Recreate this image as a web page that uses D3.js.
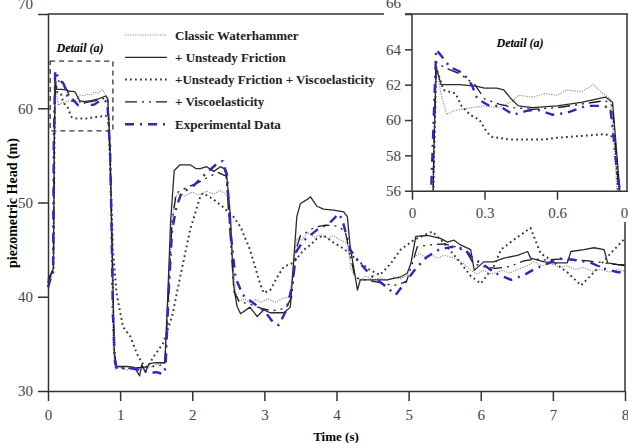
<!DOCTYPE html>
<html>
<head>
<meta charset="utf-8">
<script src="https://cdn.jsdelivr.net/npm/d3@7"></script>
<style>
  body { margin: 0; background: #fff; }
  svg { display: block; font-family: "Liberation Serif", "Times New Roman", serif; }
</style>
</head>
<body>
<div id="container"></div>
<script>
// series: [time (s), head (m)]
const classicWH = [[0,41.5],[0.05,42.5],[0.075,43],[0.085,56],[0.1,63],[0.12,61.5],[0.144,60.3],[0.17,60.5],[0.2,60.6],[0.25,60.7],[0.3,60.8],[0.36,60.7],[0.42,61.1],[0.44,61.4],[0.5,61.3],[0.55,61.5],[0.6,61.4],[0.64,61.7],[0.7,61.6],[0.75,62.0],[0.79,61.5],[0.82,61.2],[0.84,58],[0.87,50],[0.9,35],[0.93,32.3],[1.0,32.5],[1.1,32.2],[1.2,32.4],[1.35,32.3],[1.5,32.8],[1.62,33],[1.67,40],[1.72,48],[1.76,50.6],[1.82,51.0],[1.9,50.7],[2.0,51.1],[2.1,50.8],[2.2,51.2],[2.3,50.9],[2.38,51.3],[2.45,51.0],[2.5,50.5],[2.55,45],[2.6,40.5],[2.65,39.5],[2.72,39.8],[2.8,39.3],[2.88,39.7],[2.95,39.4],[3.05,39.8],[3.15,39.4],[3.25,39.8],[3.35,40],[3.4,43],[3.45,46.2],[3.52,46.0],[3.6,46.8],[3.7,46.3],[3.78,46.6],[3.88,46.2],[3.95,46.5],[4.06,46.0],[4.15,45.7],[4.2,43],[4.25,42.2],[4.33,41.8],[4.4,42.2],[4.5,41.8],[4.6,42.0],[4.7,41.7],[4.8,42.1],[4.9,41.9],[4.98,42.3],[5.05,44.0],[5.15,44.6],[5.22,44.2],[5.3,44.5],[5.4,44.1],[5.5,44.4],[5.63,44.1],[5.75,43.6],[5.86,42.8],[5.95,42.4],[6.04,42.8],[6.15,42.4],[6.3,42.8],[6.4,42.5],[6.51,42.9],[6.65,43.3],[6.74,43.7],[6.85,43.3],[6.97,43.5],[7.1,43.1],[7.2,43.3],[7.3,42.9],[7.43,43.1],[7.55,42.7],[7.66,42.9],[7.8,42.6],[7.9,42.9],[8,42.7]];

const unsteadyFriction = [[0,41.8],[0.05,42.6],[0.075,43],[0.09,58],[0.1,63],[0.12,62.0],[0.2,62.0],[0.27,61.9],[0.3,61.8],[0.35,61.8],[0.38,61.7],[0.41,61.2],[0.44,60.8],[0.5,60.7],[0.6,60.8],[0.7,61.0],[0.8,61.3],[0.83,61.0],[0.86,56],[0.89,45],[0.92,34],[0.95,32.6],[1.1,32.6],[1.2,32.5],[1.27,31.6],[1.3,32.8],[1.35,32.0],[1.4,32.9],[1.5,33.0],[1.62,33.0],[1.66,40],[1.7,48],[1.75,53.4],[1.83,54.0],[1.97,54.0],[2.05,53.6],[2.11,53.6],[2.2,53.8],[2.3,53.3],[2.39,53.8],[2.44,53.6],[2.48,52.7],[2.53,48.5],[2.57,41.4],[2.62,39.0],[2.67,38.2],[2.8,38.9],[2.9,37.9],[2.99,38.6],[3.08,38.3],[3.27,38.3],[3.36,38.9],[3.4,43.2],[3.45,48.5],[3.5,49.9],[3.59,50.3],[3.64,50.6],[3.73,49.6],[3.82,49.3],[3.96,49.2],[4.1,49.0],[4.15,48.5],[4.19,45.3],[4.26,42.1],[4.29,40.7],[4.33,41.8],[4.43,41.8],[4.57,41.8],[4.7,41.8],[4.89,42.1],[4.98,42.5],[5.03,43.5],[5.1,46.4],[5.26,46.5],[5.44,46.2],[5.54,45.8],[5.63,46.0],[5.72,45.5],[5.86,45.0],[5.91,42.8],[6.04,43.7],[6.18,43.7],[6.32,44.1],[6.51,44.4],[6.65,44.8],[6.69,44.1],[6.88,43.7],[7.02,43.6],[7.2,43.6],[7.25,44.8],[7.43,45.0],[7.57,45.2],[7.71,45.0],[7.76,43.6],[7.9,43.4],[8,43.4]];

const frictionVisco = [[0,41.5],[0.05,42.3],[0.075,43],[0.09,57],[0.1,63],[0.13,61.7],[0.18,61.5],[0.205,60.8],[0.24,60.3],[0.28,60.0],[0.31,59.3],[0.33,59.05],[0.4,58.9],[0.55,58.9],[0.6,59.0],[0.7,59.1],[0.8,59.2],[0.84,59.0],[0.87,52],[0.9,45],[0.95,40.4],[1.04,36.8],[1.14,35.8],[1.23,34.0],[1.3,33.0],[1.38,32.5],[1.46,33.6],[1.6,35.1],[1.72,37.9],[1.83,42.0],[1.97,47.1],[2.11,50.6],[2.15,51.0],[2.3,50.3],[2.43,49.5],[2.57,48.5],[2.67,47.4],[2.8,45.0],[2.94,41.4],[2.99,40.4],[3.08,40.7],[3.18,42.1],[3.27,43.2],[3.4,43.6],[3.55,45.0],[3.64,45.5],[3.73,46.2],[3.82,46.5],[3.95,45.8],[4.1,45.1],[4.3,43.8],[4.45,42.9],[4.6,42.3],[4.75,43.5],[4.89,45.0],[5.07,46.0],[5.26,46.7],[5.33,46.9],[5.49,45.7],[5.72,43.6],[5.86,42.2],[6.0,41.4],[6.18,43.2],[6.28,45.0],[6.45,46.0],[6.69,47.3],[6.83,44.6],[6.97,43.9],[7.2,42.6],[7.39,41.2],[7.57,42.6],[7.8,44.6],[8.0,46.2]];

const viscoelastic = [[0,41.6],[0.05,42.5],[0.075,43],[0.09,58],[0.1,63.3],[0.13,63.0],[0.2,62.6],[0.26,62.0],[0.3,61.2],[0.36,60.9],[0.42,60.7],[0.5,60.6],[0.6,60.7],[0.7,60.9],[0.8,61.1],[0.83,60.8],[0.86,55],[0.89,45],[0.92,34],[0.95,32.5],[1.1,32.4],[1.3,32.5],[1.45,32.6],[1.62,32.8],[1.67,40],[1.72,48],[1.78,51.0],[1.9,51.5],[2.05,52.0],[2.2,52.6],[2.35,53.2],[2.47,52.8],[2.53,46],[2.58,40.5],[2.65,39.5],[2.8,39.2],[2.95,38.8],[3.1,38.5],[3.3,38.8],[3.38,40],[3.44,45],[3.5,46.5],[3.6,46.9],[3.7,47.4],[3.85,47.6],[4.0,47.5],[4.12,47.0],[4.2,44],[4.26,42],[4.4,41.8],[4.6,41.5],[4.8,41.2],[4.97,41.6],[5.05,43.5],[5.12,45.3],[5.3,45.5],[5.5,45.6],[5.65,45.3],[5.8,44.8],[5.9,43.5],[6.04,43.2],[6.2,43.0],[6.4,43.2],[6.6,43.8],[6.76,44.0],[6.9,43.9],[7.1,44.0],[7.3,43.9],[7.5,43.8],[7.7,43.6],[7.9,43.4],[8,43.3]];

const experimental = [[0,41.0],[0.04,42.0],[0.07,42.5],[0.08,56.3],[0.1,64.0],[0.157,63.0],[0.212,62.65],[0.247,62.0],[0.27,61.2],[0.32,60.8],[0.36,60.8],[0.42,60.3],[0.47,60.5],[0.516,60.6],[0.58,60.3],[0.64,60.4],[0.72,60.8],[0.78,60.8],[0.82,60.7],[0.83,59.6],[0.845,57.5],[0.86,56.0],[0.88,48],[0.9,38],[0.93,33],[0.96,32.3],[1.1,32.5],[1.3,32.2],[1.42,31.9],[1.5,32.0],[1.6,31.8],[1.63,32.5],[1.67,40],[1.72,47],[1.78,49.5],[1.85,51.0],[2.02,51.8],[2.15,52.8],[2.34,54.1],[2.42,54.4],[2.48,53],[2.53,47],[2.6,42],[2.7,40.2],[2.85,39.3],[3.0,38.5],[3.13,37.2],[3.2,37.0],[3.3,38.5],[3.38,41],[3.45,44.9],[3.55,46.0],[3.73,47.1],[3.9,47.8],[4.03,48.8],[4.08,48.2],[4.19,45.0],[4.3,43.8],[4.47,42.3],[4.65,41.3],[4.82,40.2],[4.95,41.5],[5.1,43.0],[5.25,44.2],[5.42,45.0],[5.6,45.3],[5.77,45.1],[5.9,44.0],[6.04,43.4],[6.2,42.5],[6.42,41.8],[6.6,42.3],[6.76,43.0],[6.95,43.6],[7.13,44.1],[7.3,43.9],[7.53,43.6],[7.7,43.0],[7.9,42.6],[8,42.6]];

const seriesNames = ["Classic Waterhammer", "+ Unsteady Friction", "+Unsteady Friction + Viscoelasticity", "+ Viscoelasticity", "Experimental Data"];
const xTicks = [0, 1, 2, 3, 4, 5, 6, 7, 8];
const yTicks = [30, 40, 50, 60, 70];
const insetXTicks = [0, 0.3, 0.6, 0.9];
const insetYTicks = [56, 58, 60, 62, 64, 66];
const detailBox = {t0: 0.03, t1: 0.9, h0: 57.6, h1: 65};

// line styles, same order as seriesNames
const styles = [
  {stroke: "#8a8a8a", width: 1.1, dash: "1.2,1.3"},
  {stroke: "#2b2b2b", width: 1.3, dash: null},
  {stroke: "#3a3a3a", width: 2.0, dash: "1.8,3.2"},
  {stroke: "#1a1a1a", width: 1.3, dash: "12,5,2,5,2,5"},
  {stroke: "#2929c4", width: 2.4, dash: "9,6,2,6"}
];
const allSeries = [classicWH, unsteadyFriction, frictionVisco, viscoelastic, experimental];

const W = 628, H = 443;
const margin = {left: 48, right: 3, top: 14, bottom: 52};

const x = d3.scaleLinear().domain([0, 8]).range([margin.left, W - margin.right]);
const y = d3.scaleLinear().domain([30, 70]).range([H - margin.bottom, margin.top]);

const svg = d3.select("#container").append("svg")
  .attr("width", W).attr("height", H);

const axisColor = "#333";

// main curves
const lineMain = d3.line().x(d => x(d[0])).y(d => y(d[1]));
const mainG = svg.append("g");
allSeries.forEach((s, i) => {
  mainG.append("path")
    .attr("d", lineMain(s))
    .attr("fill", "none")
    .attr("stroke", styles[i].stroke)
    .attr("stroke-width", styles[i].width)
    .attr("stroke-dasharray", styles[i].dash)
    .attr("stroke-linejoin", "round");
});

// main axes
const xAxis = svg.append("g")
  .attr("transform", `translate(0,${y(30)})`)
  .call(d3.axisBottom(x).tickValues(xTicks).tickSize(10).tickSizeOuter(0).tickPadding(8).tickFormat(d3.format("d")));
const yAxis = svg.append("g")
  .attr("transform", `translate(${x(0)},0)`)
  .call(d3.axisLeft(y).tickValues(yTicks).tickSize(10).tickSizeOuter(0).tickPadding(5).tickFormat(d3.format("d")));
[xAxis, yAxis].forEach(a => {
  a.selectAll("path, line").attr("stroke", axisColor).attr("stroke-width", 1.5);
  a.selectAll("text").attr("font-family", "Liberation Serif, serif").attr("font-size", 15).attr("fill", "#444");
});
// the top label sits partly off the picture
yAxis.selectAll(".tick").filter(d => d === 70).select("text").attr("dy", "-0.35em");

// frame top and right
svg.append("line").attr("x1", x(0)).attr("x2", W).attr("y1", y(70)).attr("y2", y(70))
  .attr("stroke", axisColor).attr("stroke-width", 1.5);
svg.append("line").attr("x1", x(8)).attr("x2", x(8)).attr("y1", y(70)).attr("y2", y(30))
  .attr("stroke", axisColor).attr("stroke-width", 1.5);

// axis titles
svg.append("text")
  .attr("x", 336).attr("y", 441)
  .attr("text-anchor", "middle")
  .attr("font-weight", "bold").attr("font-size", 13)
  .text("Time (s)");
svg.append("text")
  .attr("transform", `translate(17,203) rotate(-90)`)
  .attr("text-anchor", "middle")
  .attr("font-weight", "bold").attr("font-size", 14)
  .text("piezometric Head (m)");

// detail box
svg.append("rect")
  .attr("x", x(detailBox.t0)).attr("y", y(detailBox.h1))
  .attr("width", x(detailBox.t1) - x(detailBox.t0))
  .attr("height", y(detailBox.h0) - y(detailBox.h1))
  .attr("fill", "none").attr("stroke", "#333").attr("stroke-width", 1.3)
  .attr("stroke-dasharray", "5,4");
svg.append("text")
  .attr("x", 80).attr("y", 52)
  .attr("text-anchor", "middle")
  .attr("font-weight", "bold").attr("font-style", "italic").attr("font-size", 12)
  .text("Detail (a)");

// legend
const legend = svg.append("g").attr("transform", "translate(125,35)");
seriesNames.forEach((name, i) => {
  const row = legend.append("g").attr("transform", `translate(0,${i * 22.3})`);
  row.append("line")
    .attr("x1", 0).attr("x2", 42).attr("y1", 0).attr("y2", 0)
    .attr("stroke", styles[i].stroke)
    .attr("stroke-width", styles[i].width)
    .attr("stroke-dasharray", styles[i].dash);
  row.append("text")
    .attr("x", 50).attr("y", 4.5)
    .attr("font-weight", "bold").attr("font-size", 13)
    .attr("fill", "#222")
    .text(name);
});

// inset
const xi = d3.scaleLinear().domain([0, 0.9]).range([412, 629.5]);
const yi = d3.scaleLinear().domain([56, 66]).range([190.7, 14]);

svg.append("rect")
  .attr("x", 384).attr("y", 0).attr("width", W - 384).attr("height", 222)
  .attr("fill", "#fff");

svg.append("clipPath").attr("id", "insetClip")
  .append("rect").attr("x", xi(0)).attr("y", yi(66)).attr("width", W - xi(0)).attr("height", yi(56) - yi(66));

const lineInset = d3.line().x(d => xi(d[0])).y(d => yi(d[1]));
const insetG = svg.append("g").attr("clip-path", "url(#insetClip)");
allSeries.forEach((s, i) => {
  insetG.append("path")
    .attr("d", lineInset(s.filter(d => d[0] <= 0.95)))
    .attr("fill", "none")
    .attr("stroke", styles[i].stroke)
    .attr("stroke-width", styles[i].width)
    .attr("stroke-dasharray", styles[i].dash)
    .attr("stroke-linejoin", "round");
});

const xiAxis = svg.append("g")
  .attr("transform", `translate(0,${yi(56)})`)
  .call(d3.axisBottom(xi).tickValues(insetXTicks).tickSize(9).tickSizeOuter(0).tickPadding(8).tickFormat(d => d === 0 ? "0" : d3.format(".1f")(d)));
const yiAxis = svg.append("g")
  .attr("transform", `translate(${xi(0)},0)`)
  .call(d3.axisLeft(yi).tickValues(insetYTicks).tickSize(7).tickSizeOuter(0).tickPadding(4).tickFormat(d3.format("d")));
[xiAxis, yiAxis].forEach(a => {
  a.selectAll("path, line").attr("stroke", axisColor).attr("stroke-width", 1.5);
  a.selectAll("text").attr("font-family", "Liberation Serif, serif").attr("font-size", 15).attr("fill", "#444");
});
yiAxis.select(".domain").attr("d", `M0,${yi(66)}V${yi(56)}`);
yiAxis.selectAll(".tick").filter(d => d === 66).select("text").attr("dy", "-0.45em");
// frame top of inset and its right border
svg.append("line").attr("x1", xi(0) - 7).attr("x2", W).attr("y1", yi(66)).attr("y2", yi(66))
  .attr("stroke", axisColor).attr("stroke-width", 1.5);
svg.append("line").attr("x1", W - 1).attr("x2", W - 1).attr("y1", yi(66)).attr("y2", yi(56))
  .attr("stroke", axisColor).attr("stroke-width", 1.5);

svg.append("text")
  .attr("x", 520).attr("y", 47)
  .attr("text-anchor", "middle")
  .attr("font-weight", "bold").attr("font-style", "italic").attr("font-size", 12)
  .text("Detail (a)");
</script>
</body>
</html>
